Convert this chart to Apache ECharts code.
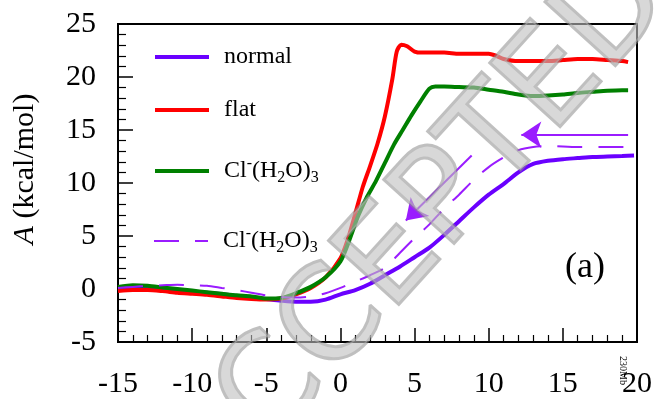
<!DOCTYPE html>
<html>
<head>
<meta charset="utf-8">
<script src="https://cdn.jsdelivr.net/npm/echarts@6/dist/echarts.min.js"></script>
<style>
  html, body { margin: 0; padding: 0; background: #fff; }
  #chart { width: 655px; height: 399px; }
</style>
</head>
<body>
<div id="chart"></div>
<script>
// Free-energy profiles A(x) in kcal/mol
const normalX = [-15,-14,-13,-12,-11,-10,-9,-8,-7,-6,-5,-4,-3,-2,-1,0,1,2,3,4,5,6,7,8,9,10,11,12,13,14,15,16,17,18,19,19.8];
const normalY = [0.0,0.05,0.1,0.0,-0.1,-0.25,-0.35,-0.5,-0.65,-0.8,-0.95,-1.1,-1.2,-1.2,-1.0,-0.5,-0.1,0.5,1.3,2.1,3.0,3.9,5.1,6.4,7.7,8.9,9.9,11.0,11.8,12.1,12.25,12.35,12.45,12.5,12.55,12.6];

const flatX = [-15,-14,-13,-12,-11,-10,-9,-8,-7,-6,-5,-4,-3,-2,-1,0,0.5,1,1.5,2,2.5,3,3.5,3.8,4.1,4.5,5,5.5,6,7,8,9,10,10.5,11,12,13,14,15,16,17,18,19,19.4];
const flatY = [-0.2,-0.1,-0.1,-0.2,-0.35,-0.45,-0.55,-0.7,-0.85,-0.95,-1.0,-0.9,-0.5,0.1,1.1,2.9,4.7,7.1,9.6,11.6,13.7,16.3,19.8,22.4,23.05,22.9,22.4,22.3,22.3,22.3,22.2,22.2,22.2,22.0,21.7,21.5,21.5,21.5,21.6,21.7,21.7,21.6,21.5,21.4];

const clX = [-15,-14,-13,-12,-11,-10,-9,-8,-7,-6,-5,-4,-3,-2,-1,0,0.6,1.2,1.8,2.4,3,3.6,4.2,4.8,5.4,6,6.4,7,8,9,10,11,12,13,14,15,16,17,18,19,19.4];
const clY = [0.2,0.35,0.3,0.15,0.0,-0.15,-0.3,-0.45,-0.6,-0.7,-0.9,-0.85,-0.4,0.2,1.1,2.6,4.6,6.9,8.7,10.2,11.9,13.6,15.0,16.4,17.7,18.9,19.1,19.1,19.05,19.0,18.8,18.6,18.35,18.2,18.25,18.35,18.5,18.6,18.7,18.75,18.75];

const clRevX = [-15,-14,-13,-12,-11,-10,-9,-8,-7,-6,-5,-4,-3,-2,-1,0,1,2,3,4,5,6,7,8,9,10,11,12,13,14,16,18,19.8];
const clRevY = [0.1,0.2,0.3,0.35,0.4,0.35,0.3,0.1,-0.1,-0.35,-0.6,-0.75,-0.8,-0.7,-0.4,0.1,0.7,1.3,2.0,3.4,4.8,6.1,7.6,8.9,10.3,11.5,12.4,13.1,13.4,13.5,13.4,13.4,13.4];

// Direction arrows (start, end) in data units
const arrowTop = [[19.4, 14.55], [12.2, 14.55]];
const arrowDiag = [[8.85, 12.6], [4.41, 6.46]];

const xTicks = [-15, -10, -5, 0, 5, 10, 15, 20];
const yTicks = [-5, 0, 5, 10, 15, 20, 25];

const seriesNames = ['normal', 'flat', 'Cl-(H2O)3', 'Cl-(H2O)3 reverse'];
const legendText = {
  'normal': '{g|}{t|normal}',
  'flat': '{g|}{t|flat}',
  'Cl-(H2O)3': '{g|}{t|Cl}{sup|-}{t|(H}{sub|2}{t|O)}{sub|3}',
  'Cl-(H2O)3 reverse': '{g|}{t|Cl}{sup|-}{t|(H}{sub|2}{t|O)}{sub|3}'
};

const SERIF = '"Liberation Serif", "Times New Roman", serif';
const pairs = (xs, ys) => xs.map((x, i) => [x, ys[i]]);

const legendRich = {
  g: { width: 10 },
  t: { fontFamily: SERIF, fontSize: 24, lineHeight: 30, color: '#000' },
  sup: { fontFamily: SERIF, fontSize: 16, lineHeight: 14, verticalAlign: 'top', color: '#000' },
  sub: { fontFamily: SERIF, fontSize: 16, lineHeight: 14, verticalAlign: 'bottom', color: '#000' }
};
const legendTops = [45, 98, 156, 226];
const legendLineWidths = [4, 4, 4, 2];
const legends = seriesNames.map((name, i) => ({
  data: [name],
  left: 153,
  top: legendTops[i],
  padding: 0,
  orient: 'vertical',
  itemWidth: 54,
  itemHeight: 14,
  selectedMode: false,
  itemStyle: { opacity: 0 },
  lineStyle: { width: legendLineWidths[i] },
  formatter: n => legendText[n],
  textStyle: { fontFamily: SERIF, fontSize: 24, color: '#000', rich: legendRich }
}));

const chart = echarts.init(document.getElementById('chart'), null, { renderer: 'canvas' });

const lineCommon = { type: 'line', showSymbol: false, symbol: 'none', smooth: 0.25 };

const option = {
  animation: false,
  backgroundColor: '#fff',
  grid: {
    left: 118, right: 16, top: 24, bottom: 53,
    show: true, borderColor: '#000', borderWidth: 2, backgroundColor: 'transparent'
  },
  legend: legends,
  xAxis: {
    type: 'value',
    min: xTicks[0], max: xTicks[xTicks.length - 1], interval: 5,
    axisLine: { show: true, onZero: false, lineStyle: { color: '#000', width: 2 } },
    axisTick: { show: true, inside: true, length: 14, lineStyle: { color: '#000', width: 1.5 } },
    minorTick: { show: true, splitNumber: 5, length: 7, lineStyle: { color: '#000', width: 1.2 } },
    axisLabel: { fontFamily: SERIF, fontSize: 30, color: '#000', margin: 27 },
    splitLine: { show: false }
  },
  yAxis: {
    type: 'value',
    min: yTicks[0], max: yTicks[yTicks.length - 1], interval: 5,
    name: '{i|A} (kcal/mol)',
    nameLocation: 'middle',
    nameRotate: 90,
    nameGap: 78,
    nameTextStyle: {
      fontFamily: SERIF, fontSize: 30, color: '#000', padding: [0, 0, 0, 28],
      rich: { i: { fontFamily: SERIF, fontSize: 30, fontStyle: 'italic', color: '#000' } }
    },
    axisLine: { show: true, onZero: false, lineStyle: { color: '#000', width: 2 } },
    axisTick: { show: true, inside: true, length: 15, lineStyle: { color: '#000', width: 1.5 } },
    minorTick: { show: true, splitNumber: 5, length: 8, lineStyle: { color: '#000', width: 1.2 } },
    axisLabel: { fontFamily: SERIF, fontSize: 30, color: '#000', margin: 22 },
    splitLine: { show: false }
  },
  series: [
    Object.assign({}, lineCommon, {
      name: seriesNames[0], data: pairs(normalX, normalY),
      lineStyle: { color: '#6a00ff', width: 4 }, itemStyle: { color: '#6a00ff' }, z: 2
    }),
    Object.assign({}, lineCommon, {
      name: seriesNames[1], data: pairs(flatX, flatY),
      lineStyle: { color: '#ff0000', width: 4 }, itemStyle: { color: '#ff0000' }, z: 3
    }),
    Object.assign({}, lineCommon, {
      name: seriesNames[2], data: pairs(clX, clY),
      lineStyle: { color: '#008000', width: 4 }, itemStyle: { color: '#008000' }, z: 4
    }),
    Object.assign({}, lineCommon, {
      name: seriesNames[3], data: pairs(clRevX, clRevY),
      lineStyle: { color: '#9a1cff', width: 2, type: [25, 16] }, itemStyle: { color: '#9a1cff' }, z: 5,
      markLine: {
        silent: true,
        symbol: ['none', 'arrow'],
        symbolSize: [20, 20],
        label: { show: false },
        lineStyle: { color: '#9a1cff', width: 2, type: 'solid' },
        data: [
          [{ coord: arrowTop[0] }, { coord: arrowTop[1] }],
          [{ coord: arrowDiag[0] }, { coord: arrowDiag[1] }]
        ]
      }
    })
  ],
  graphic: [
    {
      type: 'text', left: 565, top: 250, z: 10,
      style: { text: '(a)', fontFamily: SERIF, fontSize: 36, fill: '#000' }
    },
    {
      type: 'text', x: 417, y: 234, rotation: 47.8 * Math.PI / 180, z: 20, silent: true,
      style: {
        text: 'ACCEPTED', fontFamily: '"DejaVu Sans", sans-serif', fontSize: 130,
        align: 'center', verticalAlign: 'middle',
        fill: 'rgba(190,190,190,0.6)', stroke: 'rgba(140,140,140,0.55)', lineWidth: 3
      }
    },
    {
      type: 'text', x: 628, y: 356, rotation: -Math.PI / 2, z: 10,
      style: { text: '230Mb', fontFamily: SERIF, fontSize: 10, fill: '#000' }
    }
  ]
};

chart.setOption(option);
</script>
</body>
</html>
